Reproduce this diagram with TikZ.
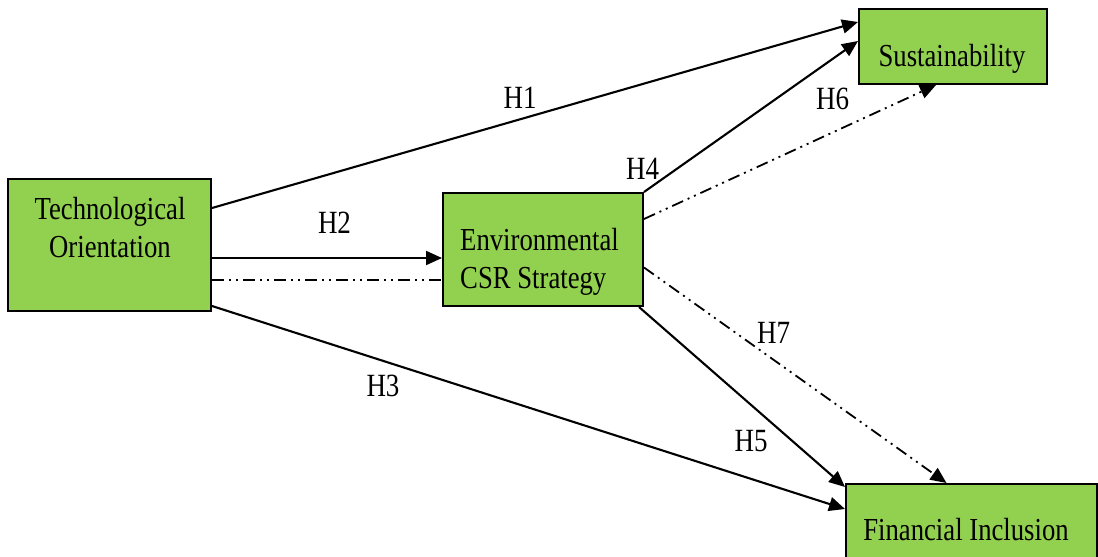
\documentclass[tikz,border=0pt]{standalone}
\usepackage{fontspec}
\usepackage{graphicx}
\setmainfont{Liberation Serif}
\usetikzlibrary{arrows.meta,calc}
\definecolor{boxgreen}{HTML}{92D050}
\newcommand{\tallText}[2]{\scalebox{1}[1.2]{\begin{tabular}{@{}#1@{}}#2\end{tabular}}}
\newcommand{\tallLbl}[1]{\scalebox{1}[1.2]{#1}}
\begin{document}
\begin{tikzpicture}[x=1pt,y=-1pt,
  box/.style={draw=black,fill=boxgreen,line width=2pt,inner sep=0pt},
  txt/.style={font=\fontsize{26.7}{31}\selectfont,inner sep=0pt},
  lbl/.style={font=\fontsize{27}{31}\selectfont,inner sep=0pt},
  conn/.style={line width=2.1pt,-{Triangle[length=16pt,width=14pt]}},
  dashdot/.style={line width=1.8pt,dash pattern=on 12pt off 5pt on 2pt off 5pt on 2pt off 5pt},
  ddarrow/.style={dashdot,-{Triangle[length=16pt,width=14pt]}}]
\clip (0,0) rectangle (1098,557);
\useasboundingbox (0,0) rectangle (1098,557);
\fill[white] (0,0) rectangle (1098,557);
% boxes
\node[box,minimum width=203pt,minimum height=132pt] (to) at (109.5,245) {};
\node[box,minimum width=200pt,minimum height=113pt] (ecsr) at (543,249.5) {};
\node[box,minimum width=188pt,minimum height=75pt] (sus) at (953,46.5) {};
\node[box,minimum width=251pt,minimum height=100pt] (fi) at (971.5,534) {};
% texts
\node[txt] (toT) at (110,231) {\tallText{c}{Technological\\Orientation}};
\node[txt,anchor=west] (ecsrT) at (460,262) {\tallText{l}{Environmental\\CSR Strategy}};
\node[txt] (susT) at (952,59) {\tallText{c}{Sustainability}};
\node[txt] (fiT) at (966,533) {\tallText{c}{Financial Inclusion}};
% connectors
\coordinate (h1s) at ([yshift=37pt]to.east);
\coordinate (h1e) at ([yshift=-14pt]sus.north west);
\draw[conn] (h1s) -- (h1e);
\coordinate (h2s) at ([yshift=-13pt]to.east);
\coordinate (h2e) at (ecsr.west |- h2s);
\draw[conn] (h2s) -- (h2e);
\coordinate (dds) at ([yshift=-35pt]to.east);
\coordinate (dde) at (ecsr.west |- dds);
\draw[dashdot] (dds) -- (dde);
\coordinate (h3s) at ([yshift=-61pt]to.east);
\coordinate (h3e) at ([yshift=-26pt]fi.north west);
\draw[conn] (h3s) -- (h3e);
\coordinate (h4e) at ([yshift=-33pt]sus.north west);
\draw[conn] (ecsr.north east) -- (h4e);
\coordinate (h6s) at ([yshift=-27pt]ecsr.north east);
\coordinate (h6e) at ([xshift=-17pt]sus.south);
\draw[ddarrow] (h6s) -- (h6e);
\coordinate (h5s) at ([xshift=-5pt]ecsr.south east);
\coordinate (h5e) at ([yshift=-4pt]fi.north west);
\draw[conn] (h5s) -- (h5e);
\coordinate (h7s) at ([yshift=-18pt]ecsr.east);
\coordinate (h7e) at ([xshift=-25pt]fi.north);
\draw[ddarrow] (h7s) -- (h7e);
% labels
\node[lbl] (l1) at (520,97.5) {\tallLbl{H1}};
\node[lbl] (l2) at (334.5,223) {\tallLbl{H2}};
\node[lbl] (l3) at (383,386) {\tallLbl{H3}};
\node[lbl] (l4) at (642.5,169) {\tallLbl{H4}};
\node[lbl] (l5) at (751,441) {\tallLbl{H5}};
\node[lbl] (l6) at (832.5,98.5) {\tallLbl{H6}};
\node[lbl] (l7) at (773.5,332.5) {\tallLbl{H7}};
\end{tikzpicture}
\end{document}
